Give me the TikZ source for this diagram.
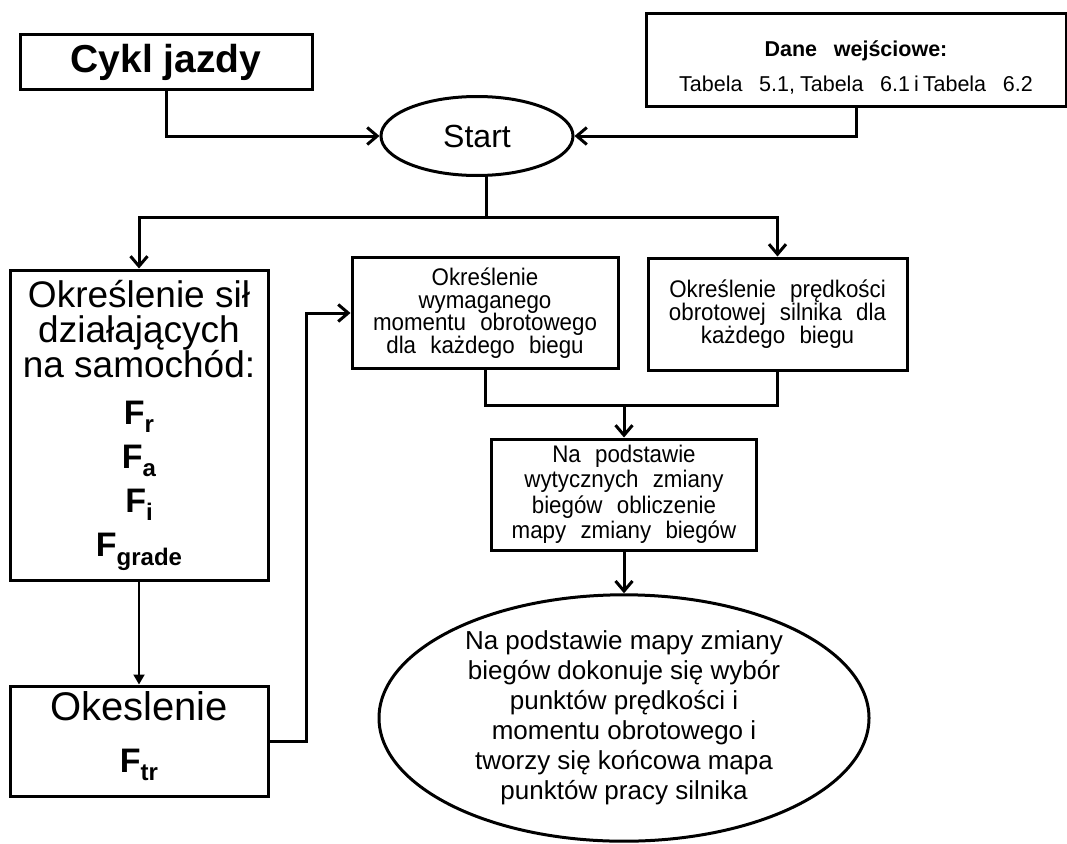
\documentclass[tikz,border=0pt]{standalone}
\usepackage{fontspec}
\setmainfont{Liberation Sans}
\newfontfamily\szerokifont{Liberation Sans}[WordSpace=2.3, FakeStretch=0.93]
\newfontfamily\danefont{Liberation Sans}[WordSpace=2.8]
\usetikzlibrary{arrows.meta, shapes.geometric, calc}

% bold force symbol with a lowered subscript
\newcommand{\Fsub}[2][8pt]{{\fontsize{34}{35}\selectfont\bfseries F\raisebox{-#1}[0pt]{\fontsize{24}{24}\selectfont #2}}}

\begin{document}
\begin{tikzpicture}[
  x=1pt, y=-1pt,
  box/.style={draw, line width=3pt, inner sep=0pt, align=center},
  oval/.style={draw, ellipse, line width=3pt, inner sep=0pt, align=center},
  flow/.style={line width=3pt, -{Straight Barb[length=10pt, width=17pt]}},
  link/.style={line width=3pt},
  thinflow/.style={line width=2pt, -{Triangle[length=10pt, width=11pt]}}
]
  \useasboundingbox (0,0) rectangle (1067,843);

  % Inputs
  \node[box, minimum width=292pt, minimum height=54pt, font=\fontsize{39}{42}\selectfont\bfseries] (cykl) at (166,62) {Cykl jazdy};
  \node[box, minimum width=420pt, minimum height=93pt, font=\danefont\fontsize{21.5}{35}\selectfont] (dane) at (856,60)
    {\rule{0pt}{30pt}\textbf{Dane wejściowe:}\\Tabela 5.1,\hspace{5pt}Tabela 6.1\hspace{4pt}i\hspace{4pt}Tabela 6.2};
  \node[oval, minimum width=192pt, minimum height=79pt, font=\fontsize{32}{34}\selectfont] (start) at (477,136) {Start};

  % Left column: forces
  \node[box, minimum width=258pt, minimum height=310pt, font=\fontsize{37}{35}\selectfont] (sily) at (139,425)
    {Określenie sił\\działających\\na samochód:\\[12pt]\Fsub{r}\\[9pt]\Fsub{a}\\[9pt]\Fsub{i}\\[9pt]\Fsub[9pt]{grade}};
  \node[box, minimum width=258pt, minimum height=110pt, font=\fontsize{40}{35}\selectfont] (okes) at (139,741)
    {Okeslenie\\[17pt]\Fsub{tr}\rule[-18pt]{0pt}{0pt}};

  % Middle: torque, speed, shift map
  \node[box, minimum width=266pt, minimum height=111pt, font=\szerokifont\fontsize{24}{22.5}\selectfont] (wymag) at (485,313)
    {Określenie\\wymaganego\\momentu obrotowego\\dla każdego biegu};
  \node[box, minimum width=259pt, minimum height=112pt, font=\szerokifont\fontsize{24}{23}\selectfont] (predk) at (777.5,314)
    {Określenie prędkości\\obrotowej silnika dla\\każdego biegu};
  \node[box, minimum width=265pt, minimum height=111pt, font=\szerokifont\fontsize{24}{25.5}\selectfont] (mapa) at (624,494.5)
    {Na podstawie\\wytycznych zmiany\\biegów obliczenie\\mapy zmiany biegów};
  \node[oval, minimum width=490pt, minimum height=245pt, font=\fontsize{26}{30}\selectfont] (koniec) at (624,718)
    {Na podstawie mapy zmiany\\biegów dokonuje się wybór\\punktów prędkości i\\momentu obrotowego i\\tworzy się końcowa mapa\\punktów pracy silnika};

  \coordinate (rozg) at (486,217);
  \coordinate (zbieg) at (624,405);

  % Arrows
  \draw[flow] (cykl.south) |- (start.west);
  \draw[flow] (dane.south) |- (start.east);
  \draw[link] (start.south -| rozg) -- (rozg);
  \draw[flow] (rozg) -| (sily.north);
  \draw[flow] (rozg) -| (predk.north);
  \draw[thinflow] (sily.south) -- (okes.north);
  \draw[flow] (okes.east) -- ++(37,0) |- (wymag.west);
  \draw[link] (wymag.south) -- (wymag.south |- zbieg) -- (predk.south |- zbieg) -- (predk.south);
  \draw[flow] (zbieg) -- (mapa.north);
  \draw[flow] (mapa.south) -- (koniec.north);
\end{tikzpicture}
\end{document}
